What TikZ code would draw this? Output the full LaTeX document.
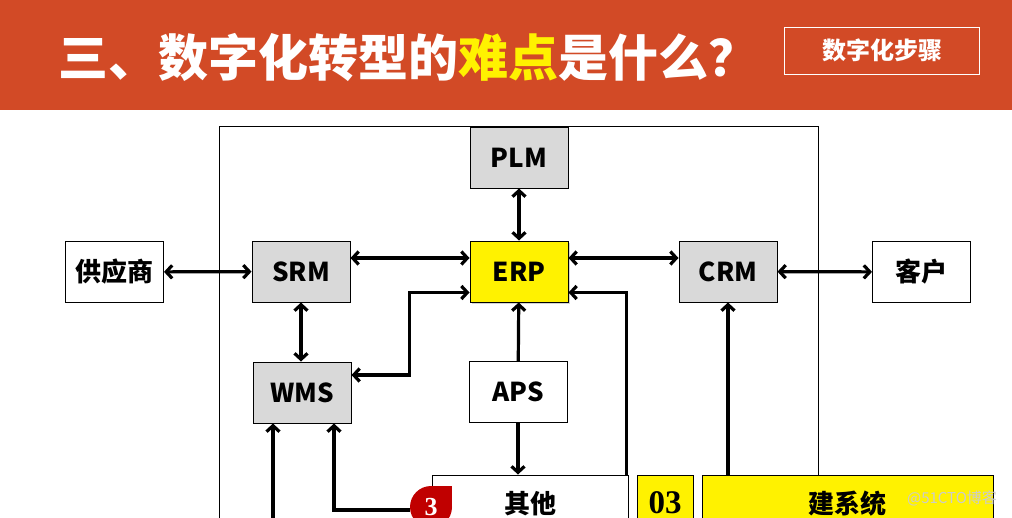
\documentclass[tikz,border=0pt]{standalone}
\usepackage{fontspec}
\setmainfont{Noto Sans CJK SC}
\newfontfamily\numfont{Liberation Serif}
\usetikzlibrary{arrows.meta, shadows}
\definecolor{bandred}{RGB}{210,74,38}
\definecolor{boxgray}{RGB}{217,217,217}
\definecolor{badgered}{RGB}{192,0,0}

\begin{document}
\begin{tikzpicture}[x=1pt, y=-1pt,
            sysnode/.style={rectangle, draw, line width=1pt, minimum width=98pt, minimum height=61pt, inner sep=0pt, font=\fontsize{26}{30}\selectfont\bfseries},
            graynode/.style={sysnode, fill=boxgray},
            conn/.style={line width=3.2pt},
            twoway/.style={conn, {Straight Barb[length=6pt,width=13pt]}-{Straight Barb[length=6pt,width=13pt]}},
            oneway/.style={conn, -{Straight Barb[length=6pt,width=13pt]}}]
            \useasboundingbox (0,0) rectangle (1012,517);
            \clip (0,0) rectangle (1012,517);

            % Header band
            \fill[bandred] (0,0) rectangle (1012,110);
            \node[anchor=west, inner sep=0pt, text=white, font=\fontsize{50}{56}\selectfont\bfseries] (title) at (58,57) {三、数字化转型的\textcolor{yellow}{难点}是什么？};
            \node[draw=white, line width=1pt, minimum width=195pt, minimum height=47pt, text=white, font=\fontsize{24}{28}\selectfont\bfseries] (stepsbox) at (882,50.5) {数字化步骤};

            % Frame round the systems
            \draw[line width=0.8pt] (219,126) rectangle (818,600);

            % Systems
            \node[graynode] (plm) at (519,157.5) {PLM};
            \node[graynode] (srm) at (301,271.5) {SRM};
            \node[sysnode, fill=yellow, drop shadow={shadow xshift=2pt, shadow yshift=-2pt, opacity=0.35}] (erp) at (519,271.5) {ERP};
            \node[graynode] (crm) at (728,271.5) {CRM};
            \node[sysnode, fill=white] (supplier) at (114.5,272) {供应商};
            \node[sysnode, fill=white] (customer) at (921.5,272) {客户};
            \node[graynode] (wms) at (302,392.5) {WMS};
            \node[sysnode] (aps) at (518,392) {APS};
            \node[sysnode, minimum width=196pt, minimum height=58pt] (other) at (530,504) {其他};
            \node[sysnode, fill=yellow, minimum width=56pt, minimum height=56pt, font=\numfont\fontsize{33}{36}\selectfont\bfseries] (num) at (665,503) {03};
            \node[sysnode, fill=yellow, minimum width=291pt, minimum height=58pt] (build) at (847.5,504) {建系统};

            % Badge
            \fill[badgered] (431,486) rectangle (452,507);
            \node[circle, fill=badgered, minimum size=42pt, inner sep=0pt, text=white, font=\numfont\fontsize{26}{28}\selectfont\bfseries] (badge) at (431,507) {3};

            % Connectors
            \draw[twoway] (plm) -- (erp);
            \draw[twoway] ([yshift=13.5pt]srm.east) -- ([yshift=13.5pt]erp.west);
            \draw[twoway] ([yshift=13.5pt]erp.east) -- ([yshift=13.5pt]crm.west);
            \draw[twoway] (supplier) -- (srm);
            \draw[twoway] (crm) -- (customer);
            \draw[twoway] (srm.south) -- (srm.south |- wms.north);
            \draw[twoway] ([yshift=-21pt]erp.west) -| ([xshift=58pt,yshift=17.5pt]wms.east) -- ([yshift=17.5pt]wms.east);
            \draw[oneway] (aps) -- (erp);
            \draw[oneway] (aps) -- (aps.south |- other.north);
            \draw[oneway] ([xshift=-2pt]other.north east) |- ([yshift=-21pt]erp.east);
            \draw[oneway] (crm.south |- build.north) -- (crm.south);
            \draw[oneway] ([yshift=-3pt]badge.west) -| ([xshift=32pt]wms.south);
            \coordinate (wmsfeed) at (273,530);
            \draw[oneway] (wmsfeed) -- (wmsfeed |- wms.south);

            % Watermark
            \node[text=gray!40, font=\fontsize{15}{18}\selectfont] (mark) at (952,498) {@51CTO博客};
        \end{tikzpicture}
\end{document}
